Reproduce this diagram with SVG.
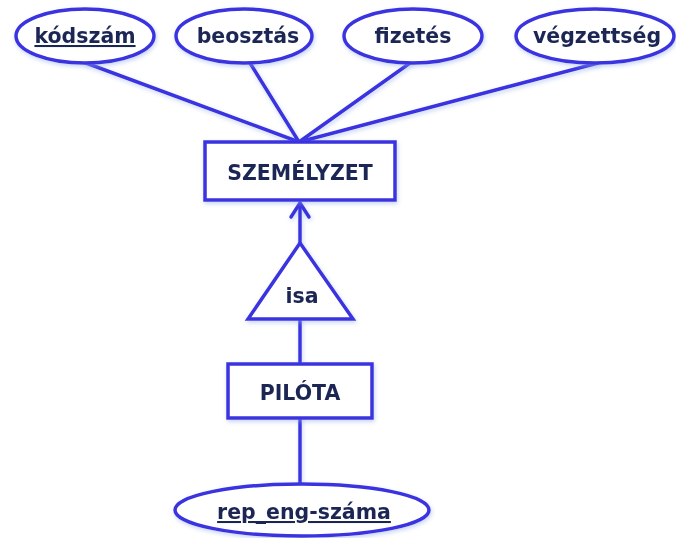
<svg xmlns="http://www.w3.org/2000/svg" width="676" height="538" viewBox="0 0 676 538">
  <style>
    .shape { fill: #ffffff; stroke: #3b32e0; stroke-width: 3.5; }
    .line { fill: none; stroke: #3b32e0; stroke-width: 3.5; stroke-linecap: round; stroke-linejoin: round; }
    .label { font-family: "DejaVu Sans", "Liberation Sans", sans-serif; font-weight: bold; font-size: 20.5px; fill: #1c2755; text-anchor: middle; }
    .key { text-decoration: underline; }
  </style>
  <defs>
    <filter id="halo" x="-10%" y="-10%" width="120%" height="130%">
      <feGaussianBlur in="SourceAlpha" stdDeviation="2" result="b"/>
      <feFlood flood-color="#8fa8e8" flood-opacity="0.5"/>
      <feComposite in2="b" operator="in" result="s"/>
      <feOffset dx="1" dy="2" result="o"/>
      <feMerge><feMergeNode in="o"/><feMergeNode in="SourceGraphic"/></feMerge>
    </filter>
  </defs>
  <rect width="676" height="538" fill="#ffffff"/>

  <!-- connectors -->
  <g id="connectors" filter="url(#halo)">
    <line class="line" x1="86" y1="63" x2="299" y2="142"/>
    <line class="line" x1="250" y1="63" x2="299" y2="142"/>
    <line class="line" x1="410" y1="63" x2="299" y2="142"/>
    <line class="line" x1="598" y1="63" x2="299" y2="142"/>
    <line class="line" x1="300" y1="243" x2="300" y2="203"/>
    <polyline class="line" points="291,217 300,203 309,217"/>
    <line class="line" x1="300" y1="319" x2="300" y2="364"/>
    <line class="line" x1="300" y1="418" x2="300" y2="484"/>
  </g>

  <!-- attributes of SZEMÉLYZET -->
  <g id="kodszam" filter="url(#halo)">
    <ellipse class="shape" cx="85" cy="36" rx="69" ry="27"/>
    <text class="label key" x="85" y="43">kódszám</text>
  </g>
  <g id="beosztas" filter="url(#halo)">
    <ellipse class="shape" cx="244" cy="36" rx="68" ry="27"/>
    <text class="label" x="248" y="43">beosztás</text>
  </g>
  <g id="fizetes" filter="url(#halo)">
    <ellipse class="shape" cx="413" cy="36" rx="69" ry="27"/>
    <text class="label" x="413" y="43">fizetés</text>
  </g>
  <g id="vegzettseg" filter="url(#halo)">
    <ellipse class="shape" cx="595" cy="36" rx="79" ry="27"/>
    <text class="label" x="597" y="43">végzettség</text>
  </g>

  <!-- entity SZEMÉLYZET -->
  <g id="szemelyzet" filter="url(#halo)">
    <rect class="shape" x="205" y="142" width="190" height="58"/>
    <text class="label" x="300" y="180">SZEMÉLYZET</text>
  </g>

  <!-- isa -->
  <g id="isa" filter="url(#halo)">
    <polygon class="shape" points="300,243 353,319 248,319"/>
    <text class="label" x="302" y="303">isa</text>
  </g>

  <!-- entity PILÓTA -->
  <g id="pilota" filter="url(#halo)">
    <rect class="shape" x="228" y="364" width="144" height="54"/>
    <text class="label" x="300" y="400">PILÓTA</text>
  </g>

  <!-- attribute of PILÓTA -->
  <g id="rep-eng-szama" filter="url(#halo)">
    <ellipse class="shape" cx="302" cy="510" rx="127" ry="26"/>
    <text class="label key" x="304" y="519">rep_eng-száma</text>
  </g>
</svg>
